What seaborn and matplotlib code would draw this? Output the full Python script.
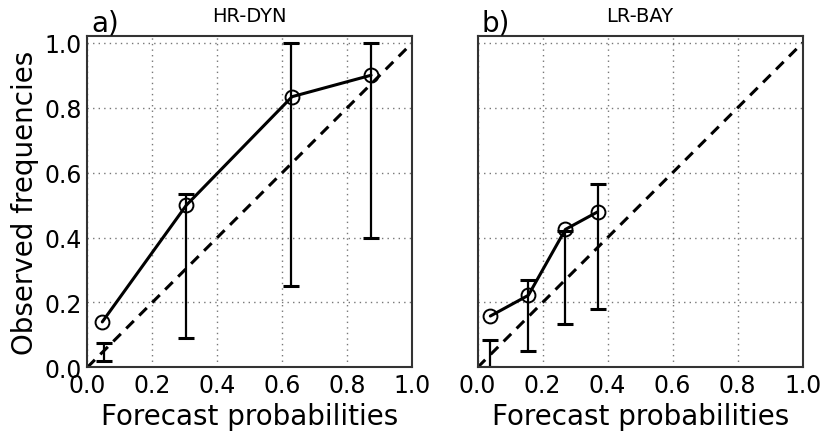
import matplotlib
matplotlib.use("Agg")
import matplotlib.pyplot as plt
import seaborn as sns
import pandas as pd

# Panel a) HR-DYN
a_prob = [0.046, 0.305, 0.630, 0.873]
a_freq = [0.140, 0.500, 0.834, 0.900]
a_err_x = [0.050, 0.305, 0.627, 0.873]
a_err_lo = [0.020, 0.090, 0.250, 0.400]
a_err_hi = [0.075, 0.535, 1.000, 1.000]

# Panel b) LR-BAY
b_prob = [0.039, 0.156, 0.270, 0.369]
b_freq = [0.158, 0.222, 0.425, 0.479]
b_err_x = [0.039, 0.156, 0.270, 0.369]
b_err_lo = [0.000, 0.050, 0.134, 0.180]
b_err_hi = [0.084, 0.270, 0.420, 0.565]

ticks = [0.0, 0.2, 0.4, 0.6, 0.8, 1.0]
tick_labels = ["0.0", "0.2", "0.4", "0.6", "0.8", "1.0"]

sns.set_style("white")
plt.rcParams['font.family'] = ['DejaVu Sans']
plt.rcParams['text.color'] = 'black'
plt.rcParams['axes.labelcolor'] = 'black'
plt.rcParams['xtick.color'] = 'black'
plt.rcParams['ytick.color'] = 'black'

fig = plt.figure(figsize=(8.23, 4.39), dpi=100)
ax_a = fig.add_axes([0.1061, 0.161, 0.3949, 0.754])
ax_b = fig.add_axes([0.5804, 0.161, 0.3949, 0.754])

panels = [
    (ax_a, a_prob, a_freq, a_err_x, a_err_lo, a_err_hi, "a)", "HR-DYN"),
    (ax_b, b_prob, b_freq, b_err_x, b_err_lo, b_err_hi, "b)", "LR-BAY"),
]

for ax, px, fy, ex, elo, ehi, lab, title in panels:
    df = pd.DataFrame({"p": px, "f": fy})
    ax.set_axisbelow(True)
    ax.grid(True, linestyle=(0, (1, 3)), color="#777777", linewidth=1.0)
    # diagonal
    diag = pd.DataFrame({"p": [0.0, 1.0], "f": [0.0, 1.0]})
    sns.lineplot(data=diag, x="p", y="f", ax=ax, color="black", linewidth=2.2,
                 linestyle=(0, (3.5, 2.5)))
    # error bars
    mid = [(lo + hi) / 2 for lo, hi in zip(elo, ehi)]
    half = [(hi - lo) / 2 for lo, hi in zip(elo, ehi)]
    ax.errorbar(ex, mid, yerr=half, fmt="none", ecolor="black", elinewidth=1.6,
                capsize=6, capthick=2.2)
    sns.lineplot(data=df, x="p", y="f", ax=ax, color="black", linewidth=2.2,
                 marker="o", markersize=10, markerfacecolor="none",
                 markeredgecolor="black", markeredgewidth=1.4)
    ax.set_xlim(0, 1)
    ax.set_ylim(0, 1.02)
    ax.set_xticks(ticks)
    ax.set_xticklabels(tick_labels, fontsize=17)
    ax.set_yticks(ticks)
    ax.tick_params(axis="both", length=0, pad=4)
    ax.set_xlabel("Forecast probabilities", fontsize=20, labelpad=4)
    for s in ax.spines.values():
        s.set_color("#333333")
        s.set_linewidth(1.5)
    ax.text(0.012, 1.0, lab, transform=ax.transAxes, fontsize=20,
            ha="left", va="bottom")
    ax.text(0.5, 1.035, title, transform=ax.transAxes, fontsize=14,
            ha="center", va="bottom")

ax_a.set_yticklabels(tick_labels, fontsize=17)
ax_a.set_ylabel("Observed frequencies", fontsize=20, labelpad=4)
ax_b.set_yticklabels([])
ax_b.set_ylabel("")

fig.savefig("out.png", dpi=100)
